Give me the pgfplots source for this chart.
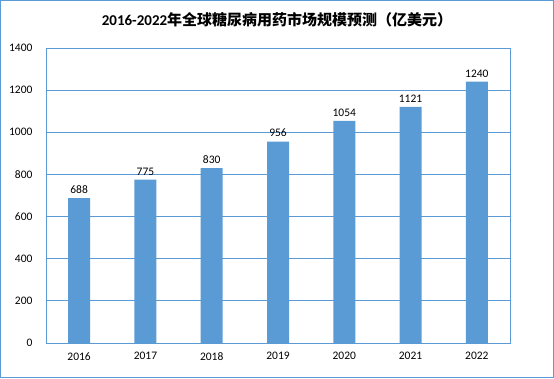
\documentclass[border=0pt]{standalone}
\usepackage{pgfplots}
\pgfplotsset{compat=1.18}
\usepackage{fontspec}
\setmainfont{Carlito}
\newfontfamily\cjk{Noto Sans CJK SC}
\definecolor{barblue}{HTML}{5B9BD5}
\definecolor{gridblue}{HTML}{5B9BD5}
\begin{document}
\begin{tikzpicture}
\draw[gridblue, line width=1pt] (0.5pt,0.5pt) rectangle (553.5pt,377.5pt);
\node[font=\bfseries\fontsize{15}{17}\selectfont] at (277pt,358pt) {2016-2022{\cjk\bfseries 年全球糖尿病用药市场规模预测（亿美元）}};
\begin{axis}[
  at={(46pt,35pt)}, anchor=south west,
  width=464pt, height=295pt, scale only axis,
  ymin=0, ymax=1400, ytick={0,200,...,1400},
  xmin=-0.5, xmax=6.5,
  xtick={0,...,6},
  xticklabels={2016,2017,2018,2019,2020,2021,2022},
  ymajorgrids, grid style={gridblue, line width=0.8pt},
  axis line style={gridblue, line width=0.8pt},
  major tick length=0pt,
  tick label style={font=\fontsize{11.5}{13}\selectfont},
  /pgf/number format/assume math mode=true,
  /pgf/number format/1000 sep={},
  yticklabel style={xshift=-10pt},
  xticklabel style={yshift=-6pt},
  nodes near coords,
  every node near coord/.append style={font=\fontsize{11.5}{13}\selectfont, yshift=1pt},
]
\addplot[ybar, bar width=22pt, fill=barblue, draw=none] coordinates {
(0,688) (1,775) (2,830) (3,956) (4,1054) (5,1121) (6,1240)};
\end{axis}
\end{tikzpicture}
\end{document}
